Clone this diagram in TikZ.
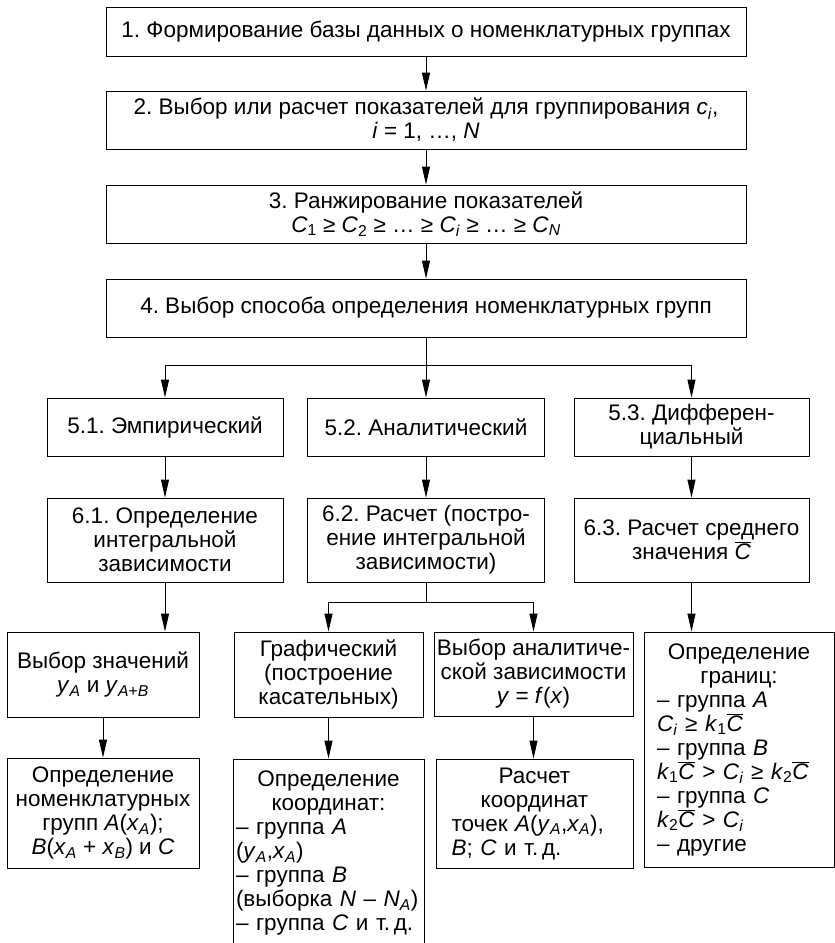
\documentclass[tikz,border=0pt]{standalone}
\usepackage{fontspec}
\setmainfont{Liberation Sans}
\usetikzlibrary{arrows.meta, positioning}
\newcommand{\vv}[1]{\textit{#1}}
\newcommand{\vs}[2]{\textit{#1}\textsubscript{#2}}
\newcommand{\cbar}{\ensuremath{\overline{\mbox{\textit{C}}}}}
\newcommand{\cln}[1]{\makebox[\hsize]{#1}}
\frenchspacing

\begin{document}
\begin{tikzpicture}[x=1pt, y=-1pt,
  box/.style={draw, line width=0.9pt, align=center, inner sep=3pt,
    font=\fontsize{22.5}{24}\selectfont},
  lst/.style={box, align=left},
  arw/.style={-{Triangle[length=18pt,width=8pt]}, line width=0.9pt},
  lnk/.style={line width=0.9pt},
]
\useasboundingbox (0,0) rectangle (835,943);

% ---- main chain (top) ----
\node[box, minimum width=640pt, minimum height=49pt] (b-base) at (426,31.5)
  {1. Формирование базы данных о номенклатурных группах};
\node[box, minimum width=640pt, minimum height=58pt] (b-pok) at (426,120)
  {2. Выбор или расчет показателей для группирования \vs{c}{\vv{i}},\\
   \vv{i} = 1, …, \vv{N}};
\node[box, minimum width=640pt, minimum height=58pt] (b-rank) at (426,214)
  {3. Ранжирование показателей\\
   \vs{C}{1} ≥ \vs{C}{2} ≥ … ≥ \vs{C}{\vv{i}} ≥ … ≥ \vs{C}{\vv{N}}};
\node[box, minimum width=640pt, minimum height=58pt] (b-sposob) at (426,308)
  {4. Выбор способа определения номенклатурных групп};

\draw[arw] (b-base) -- (b-pok);
\draw[arw] (b-pok) -- (b-rank);
\draw[arw] (b-rank) -- (b-sposob);

% ---- methods 5.x and 6.x ----
\node[box, minimum width=236pt, minimum height=58pt] (m-emp) at (165,427)
  {5.1. Эмпирический};
\node[box, minimum width=237pt, minimum height=58pt] (m-anal) at (426,427)
  {5.2. Аналитический};
\node[box, minimum width=235pt, minimum height=58pt] (m-diff) at (691.5,427)
  {5.3. Дифферен-\\циальный};

\node[box, minimum width=236pt, minimum height=84pt] (r-emp) at (165,540)
  {6.1. Определение\\интегральной\\зависимости};
\node[box, minimum width=237pt, minimum height=84pt] (r-anal) at (426,540)
  {6.2. Расчет (постро-\\ение интегральной\\зависимости)};
\node[box, minimum width=235pt, minimum height=84pt] (r-diff) at (691.5,540)
  {6.3. Расчет среднего\\значения \cbar};

\coordinate (f-main) at (426,365);
\draw[arw] (b-sposob) -- (m-anal);
\draw[arw] (f-main) -| (m-emp);
\draw[arw] (f-main) -| (m-diff);
\draw[arw] (m-emp) -- (r-emp);
\draw[arw] (m-anal) -- (r-anal);
\draw[arw] (m-diff) -- (r-diff);

% ---- lower level ----
\node[box, minimum width=192pt, minimum height=85pt] (v-znach) at (103,674.5)
  {Выбор значений\\\vs{y}{\vv{A}} и \vs{y}{\vv{A}+\vv{B}}};
\node[box, minimum width=189pt, minimum height=85pt] (v-graf) at (328.5,674.5)
  {Графический\\(построение\\касательных)};
\node[box, minimum width=199pt, minimum height=84pt] (v-func) at (533.5,674)
  {Выбор аналитиче-\\ской зависимости\\\vv{y} = \vv{f}(\vv{x})};
\node[lst, text width=164pt, minimum width=190pt, minimum height=235pt] (v-gran) at (739,749.5)
  {\cln{Определение}\\\cln{границ:}\\
   – группа \vv{A}\\
   \vs{C}{\vv{i}} ≥ \vs{k}{1}\cbar\\
   – группа \vv{B}\\
   \vs{k}{1}\cbar{} > \vs{C}{\vv{i}} ≥ \vs{k}{2}\cbar\\
   – группа \vv{C}\\
   \vs{k}{2}\cbar{} > \vs{C}{\vv{i}}\\
   – другие};

\node[box, minimum width=192pt, minimum height=110pt] (g-nom) at (103,813)
  {Определение\\номенклатурных\\групп \vv{A}(\vs{x}{\vv{A}});\\
   \vv{B}(\vs{x}{\vv{A}} + \vs{x}{\vv{B}}) и \vv{C}};
\node[lst, text width=185pt, inner xsep=2pt, minimum width=191pt, minimum height=188pt] (g-koord) at (328.5,853)
  {\cln{Определение}\\\cln{координат:}\\
   – группа \vv{A}\\
   (\vs{y}{\vv{A}},\vs{x}{\vv{A}})\\
   – группа \vv{B}\\
   \mbox{(выборка \vv{N} – \vs{N}{\vv{A}})}\\
   – группа \vv{C} и т.\,д.};
\node[lst, text width=166pt, minimum width=197pt, minimum height=109pt] (g-rasch) at (534.5,813.5)
  {\cln{Расчет}\\\cln{координат}\\
   точек \vv{A}(\vs{y}{\vv{A}},\vs{x}{\vv{A}}),\\
   \vv{B}; \vv{C} и т.\,д.};

\coordinate (f-anal) at (426,602);
\draw[arw] (r-emp.south) -- (r-emp.south |- v-znach.north);
\draw[lnk] (r-anal) -- (f-anal);
\draw[arw] (f-anal) -| (v-graf);
\draw[arw] (f-anal) -| (v-func);
\draw[arw] (r-diff.south) -- (r-diff.south |- v-gran.north);
\draw[arw] (v-znach) -- (g-nom);
\draw[arw] (v-graf) -- (g-koord);
\draw[arw] (v-func.south) -- (v-func.south |- g-rasch.north);

\end{tikzpicture}
\end{document}
